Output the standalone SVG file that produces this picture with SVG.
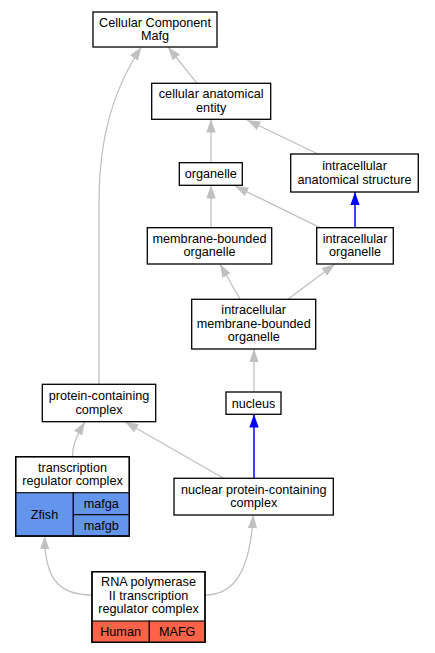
<svg xmlns="http://www.w3.org/2000/svg" width="435" height="653" viewBox="0 0 435 653">
<style>
text{font-family:"Liberation Sans",Arial,sans-serif;font-size:12.67px;fill:#000;text-anchor:middle}
.box{fill:#fff;stroke:#000;stroke-width:1.3}
.cell{stroke:#000;stroke-width:1.1}
.g{fill:none;stroke:#c0c0c0;stroke-width:1.3}
.b{fill:none;stroke:#0000ff;stroke-width:1.5}
</style>
<defs>
<marker id="ag" viewBox="0 0 13.3 9.4" refX="13.3" refY="4.7" markerWidth="13.3" markerHeight="9.4" markerUnits="userSpaceOnUse" orient="auto"><path d="M0,0L13.3,4.7L0,9.4z" fill="#c0c0c0"/></marker>
<marker id="ab" viewBox="0 0 13.3 9.4" refX="13.3" refY="4.7" markerWidth="13.3" markerHeight="9.4" markerUnits="userSpaceOnUse" orient="auto"><path d="M0,0L13.3,4.7L0,9.4z" fill="#0000ff"/></marker>
</defs>
<rect width="435" height="653" fill="#fff"/>
<g id="edges">
<path class="g" marker-end="url(#ag)" d="M197,83.3L168,47"/>
<path class="g" marker-end="url(#ag)" d="M99,384.3L99,200C99,140 112,90 141.5,47"/>
<path class="g" marker-end="url(#ag)" d="M211,162.7L211,119.3"/>
<path class="g" marker-end="url(#ag)" d="M318,154L247,120"/>
<path class="g" marker-end="url(#ag)" d="M211,227.7L211,185.3"/>
<path class="g" marker-end="url(#ag)" d="M320,227.7L235,186"/>
<path class="b" marker-end="url(#ab)" d="M355,227.7L355,192"/>
<path class="g" marker-end="url(#ag)" d="M240,299.3L220,264"/>
<path class="g" marker-end="url(#ag)" d="M288,299.3L335,264"/>
<path class="g" marker-end="url(#ag)" d="M254,392L254,349"/>
<path class="b" marker-end="url(#ab)" d="M254,478.3L254,414.3"/>
<path class="g" marker-end="url(#ag)" d="M223.5,478.3L125,421.7"/>
<path class="g" marker-end="url(#ag)" d="M72.5,456.7C72.5,448 74,440 85,421.7"/>
<path class="g" marker-end="url(#ag)" d="M92,595C58,595 44.7,578 44.7,536"/>
<path class="g" marker-end="url(#ag)" d="M205,595C235,595 250,570 253.3,515"/>
</g>
<g id="n_ccm"><rect class="box" x="93" y="12" width="124" height="35"/><text x="155" y="26.5">Cellular Component</text><text x="155" y="40">Mafg</text></g>
<g id="n_cae"><rect class="box" x="151.7" y="83.3" width="119" height="36"/><text x="211.2" y="98.3">cellular anatomical</text><text x="211.2" y="111.8">entity</text></g>
<g id="n_organelle"><rect class="box" x="179.3" y="162.7" width="63" height="22.6"/><text x="210.8" y="178.3">organelle</text></g>
<g id="n_ias"><rect class="box" x="290.7" y="154" width="127.6" height="38"/><text x="354.5" y="170">intracellular</text><text x="354.5" y="183.5">anatomical structure</text></g>
<g id="n_mbo"><rect class="box" x="147.3" y="227.7" width="124.4" height="36.3"/><text x="209.5" y="242.8">membrane-bounded</text><text x="209.5" y="256.3">organelle</text></g>
<g id="n_io"><rect class="box" x="316.7" y="227.7" width="76.6" height="36.3"/><text x="355" y="242.8">intracellular</text><text x="355" y="256.3">organelle</text></g>
<g id="n_imbo"><rect class="box" x="191.7" y="299.3" width="124" height="49.7"/><text x="253.7" y="314">intracellular</text><text x="253.7" y="327.5">membrane-bounded</text><text x="253.7" y="341">organelle</text></g>
<g id="n_nucleus"><rect class="box" x="226" y="392" width="55" height="22.3"/><text x="253.5" y="407.5">nucleus</text></g>
<g id="n_npcc"><rect class="box" x="174" y="478.3" width="159.3" height="36.7"/><text x="253.7" y="493.7">nuclear protein-containing</text><text x="253.7" y="507.2">complex</text></g>
<g id="n_pcc"><rect class="box" x="42.3" y="384.3" width="113.4" height="37.4"/><text x="99" y="400">protein-containing</text><text x="99" y="413.5">complex</text></g>
<g id="n_trc">
<rect class="box" x="15.7" y="456.7" width="113.6" height="79.3"/>
<rect class="cell" x="15.7" y="492.7" width="57.6" height="43.3" fill="#6495ed"/>
<rect class="cell" x="73.3" y="492.7" width="56" height="22" fill="#6495ed"/>
<rect class="cell" x="73.3" y="514.7" width="56" height="21.3" fill="#6495ed"/>
<rect x="15.7" y="456.7" width="113.6" height="79.3" fill="none" stroke="#000" stroke-width="1.3"/>
<text x="72.5" y="471.7">transcription</text><text x="72.5" y="485.2">regulator complex</text>
<text x="44.5" y="518.6">Zfish</text><text x="101.3" y="508">mafga</text><text x="101.3" y="529.6">mafgb</text>
</g>
<g id="n_rna">
<rect class="box" x="92" y="571.7" width="113" height="70.6"/>
<rect class="cell" x="92" y="621" width="57.3" height="21.3" fill="#ff6347"/>
<rect class="cell" x="149.3" y="621" width="55.7" height="21.3" fill="#ff6347"/>
<rect x="92" y="571.7" width="113" height="70.6" fill="none" stroke="#000" stroke-width="1.3"/>
<text x="148.5" y="586.1">RNA polymerase</text><text x="148.5" y="599.6">II transcription</text><text x="148.5" y="613.1">regulator complex</text>
<text x="120.6" y="635.9">Human</text><text x="177.2" y="635.9">MAFG</text>
</g>
</svg>
